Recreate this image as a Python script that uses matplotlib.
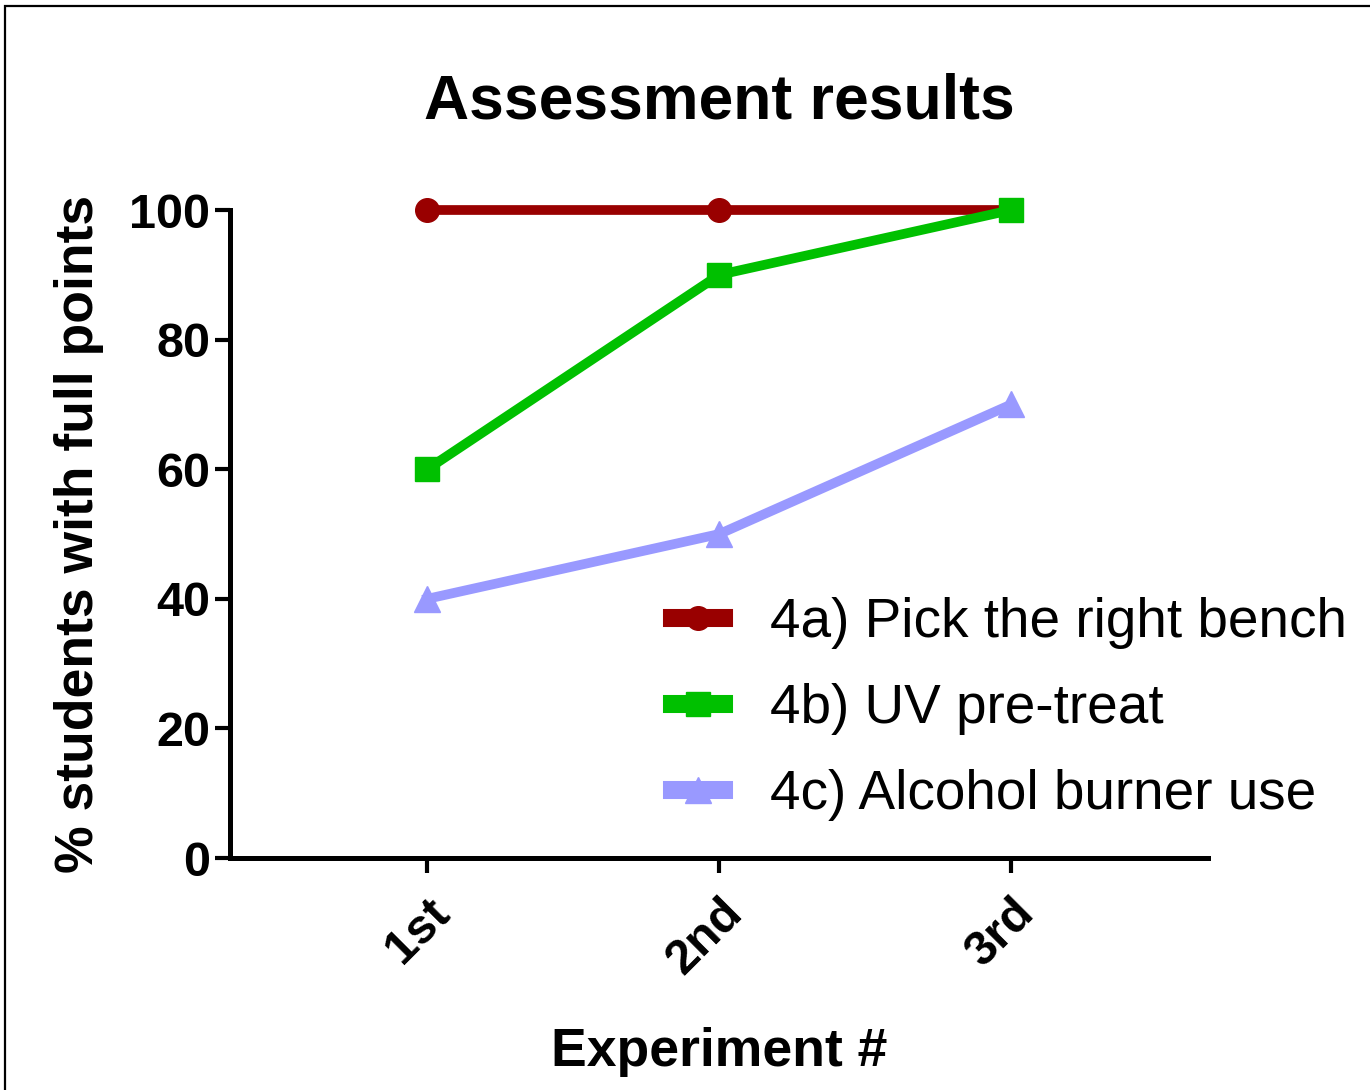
import matplotlib
matplotlib.use("Agg")
import matplotlib.pyplot as plt
from matplotlib.patches import Rectangle

# data
experiments = ['1st', '2nd', '3rd']
pick_bench = [100, 100, 100]
uv_pretreat = [60, 90, 100]
burner_use = [40, 50, 70]
labels = ['4a) Pick the right bench', '4b) UV pre-treat', '4c) Alcohol burner use']

plt.rcParams['font.family'] = ['Liberation Sans', 'DejaVu Sans']

fig = plt.figure(figsize=(13.7, 10.9), dpi=100)
ax = fig.add_axes([0.168, 0.2128, 0.714, 0.5945])

x = [1, 2, 3]
ax.plot(x, pick_bench, color='#990000', lw=7, marker='o', ms=17, label=labels[0], clip_on=False, zorder=3)
ax.plot(x, uv_pretreat, color='#00C000', lw=7, marker='s', ms=17, label=labels[1], clip_on=False, zorder=4)
ax.plot(x, burner_use, color='#9999FF', lw=7, marker='^', ms=19, label=labels[2], clip_on=False, zorder=2)

ax.set_xlim(0.325, 3.675)
ax.set_ylim(0, 100)
ax.set_yticks([0, 20, 40, 60, 80, 100])
ax.set_xticks(x)
ax.set_xticklabels(experiments, rotation=45, ha='right', rotation_mode='anchor')

for side in ['top', 'right']:
    ax.spines[side].set_visible(False)
for side in ['left', 'bottom']:
    ax.spines[side].set_linewidth(3.6)
ax.tick_params(width=3, length=11, labelsize=35)
for t in ax.get_xticklabels() + ax.get_yticklabels():
    t.set_fontweight('bold')
ax.tick_params(axis='x', pad=12)

ax.set_title('Assessment results', fontsize=45, fontweight='bold', pad=66)
ax.set_ylabel('% students with full points', fontsize=38.5, fontweight='bold', labelpad=18)
ax.set_xlabel('Experiment #', fontsize=38.5, fontweight='bold', labelpad=32)

leg = fig.legend(loc='upper left', bbox_to_anchor=(0.4905, 0.452), frameon=False,
                 fontsize=39.5, handlelength=0.95, handletextpad=0.84, labelspacing=0.62,
                 borderpad=0, borderaxespad=0)
for h in leg.legend_handles:
    h.set_linewidth(13)

fig.patches.append(Rectangle((0.004, -0.01), 1.1, 1.0045, transform=fig.transFigure,
                             fill=False, ec='black', lw=1.6, clip_on=False))

plt.savefig('out.png', dpi=100)
